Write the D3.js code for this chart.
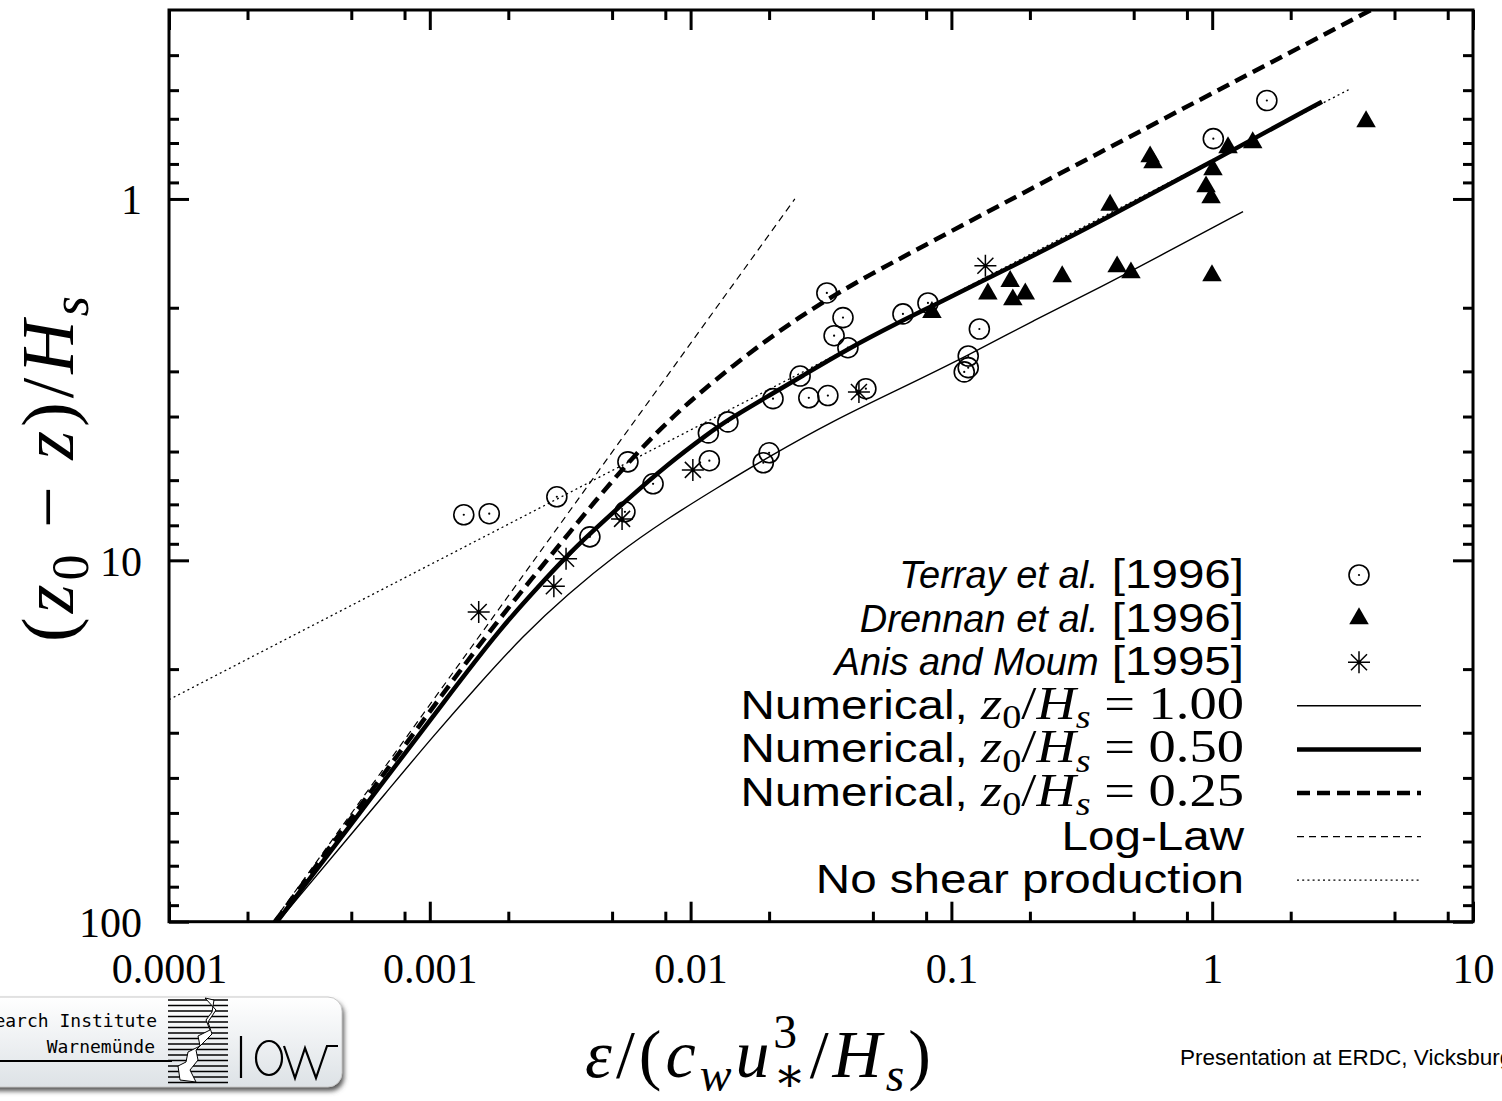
<!DOCTYPE html>
<html><head><meta charset="utf-8">
<script src="https://cdn.jsdelivr.net/npm/d3@7"></script>
<style>body{margin:0;background:#fff;} svg{display:block;}</style>
</head><body>
<svg id="c" width="1502" height="1101" xmlns="http://www.w3.org/2000/svg"></svg>
<script>
// ---------- axis ticks ----------
const xMajorTicks = [1e-4, 1e-3, 1e-2, 1e-1, 1, 10];
const xTickLabels = ["0.0001", "0.001", "0.01", "0.1", "1", "10"];
const xMinorTicks = [2e-4,5e-4,8e-4,2e-3,5e-3,8e-3,2e-2,5e-2,8e-2,0.2,0.5,0.8,2,5,8];
const yMajorTicks = [1, 10, 100];
const yTickLabels = ["1", "10", "100"];
const yMinorTicks = [0.4,0.5,0.6,0.7,0.8,0.9,2,3,4,5,6,7,8,9,20,30,40,50,60,70,80,90];

// ---------- model curves ----------
const num100X = [2.618e-4, 7.69e-4, 1.002e-3, 1.558e-3, 2.278e-3, 3.358e-3, 5.22e-3, 8.12e-3, 0.01263, 0.01963, 0.03516, 0.0635, 0.1148, 0.2056, 0.3713, 0.733, 1.313];
const num100Y = [100, 39.5, 31.4, 21.83, 16.18, 12.46, 9.59, 7.68, 6.30, 5.20, 4.11, 3.35, 2.72, 2.173, 1.76, 1.356, 1.084];

const num050X = [2.595e-4, 4.943e-4, 1.195e-3, 1.858e-3, 2.646e-3, 3.328e-3, 4.11e-3, 5.70e-3, 8.12e-3, 0.01166, 0.01391, 0.0207, 0.02627, 0.04014, 0.0635, 0.085, 0.1322, 0.2326, 0.3713, 0.981, 2.636];
const num050Y = [100, 54.3, 23.42, 15.48, 11.69, 9.78, 8.445, 6.80, 5.44, 4.465, 4.083, 3.45, 3.115, 2.597, 2.187, 1.974, 1.684, 1.373, 1.156, 0.793, 0.538];

const num025X = [2.549e-4, 4.943e-4, 1.195e-3, 1.81e-3, 2.422e-3, 3.54e-3, 4.49e-3, 6.01e-3, 7.63e-3, 9.11e-3, 0.01086, 0.01454, 0.01963, 0.02627, 0.03516, 0.04873, 0.0712, 0.1536, 0.3713, 0.898, 1.935, 4.136];
const num025Y = [100, 52.3, 21.98, 14.80, 11.40, 8.155, 6.61, 5.185, 4.34, 3.85, 3.44, 2.893, 2.454, 2.12, 1.855, 1.62, 1.399, 1.040, 0.744, 0.531, 0.3973, 0.298];

const logLawX = [2.51e-4, 0.0251];
const logLawY = [100, 1];

const noShearX = [1e-4, 3.4];
const noShearY = [24.3, 0.495];

// ---------- observations ----------
const terrayX = [1.35e-3, 1.69e-3, 3.07e-3, 4.11e-3, 5.75e-3, 5.60e-3, 7.18e-3, 0.0117, 0.0118, 0.0139, 0.0190, 0.0200, 0.0207, 0.0263, 0.0284, 0.0336, 0.0333, 0.0384, 0.0355, 0.0401, 0.0470, 0.0652, 0.0813, 0.128, 0.116, 0.116, 0.112, 1.01, 1.62];
const terrayY = [7.48, 7.43, 6.67, 8.61, 5.34, 7.34, 6.14, 4.44, 5.30, 4.14, 5.37, 5.04, 3.57, 3.09, 3.55, 3.50, 1.82, 2.13, 2.39, 2.58, 3.35, 2.08, 1.94, 2.29, 2.72, 2.93, 3.01, 0.681, 0.534];

const drennanX = [0.0842, 0.138, 0.168, 0.172, 0.192, 0.266, 0.406, 0.432, 0.488, 0.578, 0.593, 0.947, 0.990, 1.007, 0.998, 1.15, 1.43, 3.89];
const drennanY = [2.06, 1.83, 1.69, 1.90, 1.83, 1.64, 1.04, 1.54, 1.60, 0.764, 0.793, 0.925, 0.992, 0.830, 1.63, 0.721, 0.698, 0.611];

const anisX = [1.54e-3, 2.99e-3, 3.33e-3, 5.46e-3, 0.0102, 0.0442, 0.135];
const anisY = [13.9, 11.8, 9.90, 7.68, 5.62, 3.42, 1.53];

// ---------- legend labels ----------
const legendRefs = [["Terray et al.", "\u00a0[1996]"], ["Drennan et al.", "\u00a0[1996]"], ["Anis and Moum", "\u00a0[1995]"]];
const legendZ0 = ["1.00", "0.50", "0.25"];
const legendOther = ["Log-Law", "No shear production"];

// =====================================================
const svg = d3.select("#c");
const L = 169, R = 1473, T = 10, B = 921.7;
const x = d3.scaleLog().domain([1e-4, 10]).range([L, R]);
const y = d3.scaleLog().domain([0.3, 100]).range([T, B]);

const SERIF = "'Liberation Serif','DejaVu Serif',serif";
const SANS = "'Liberation Sans',Arial,Helvetica,sans-serif";

const defs = svg.append("defs");
defs.append("clipPath").attr("id", "plotClip").append("rect")
  .attr("x", L).attr("y", T).attr("width", R - L).attr("height", B - T);
const grad = defs.append("linearGradient").attr("id", "logoGrad").attr("x1", 0).attr("y1", 0).attr("x2", 0).attr("y2", 1);
grad.append("stop").attr("offset", "0%").attr("stop-color", "#ffffff");
grad.append("stop").attr("offset", "100%").attr("stop-color", "#dde2e6");
const blur = defs.append("filter").attr("id", "shadow").attr("x", "-10%").attr("y", "-10%").attr("width", "130%").attr("height", "140%");
blur.append("feGaussianBlur").attr("stdDeviation", 2.5);

// ---------- axes (inward ticks on all four sides) ----------
function axis(gen, tr, vals, size, labels) {
  const g = svg.append("g").attr("transform", tr)
    .call(gen.tickValues(vals).tickSize(size).tickSizeOuter(0)
      .tickFormat(labels ? (d, i) => labels[i] : () => ""));
  g.select(".domain").remove();
  g.selectAll(".tick line").attr("stroke", "#000").attr("stroke-width", 3);
  g.attr("font-family", SERIF).attr("font-size", 42);
  g.selectAll(".tick text").attr("fill", "#000");
  return g;
}
const gxB = axis(d3.axisBottom(x), `translate(0,${B})`, xMajorTicks, -20, xTickLabels);
gxB.selectAll(".tick text").attr("y", 61).attr("dy", 0);
axis(d3.axisBottom(x), `translate(0,${B})`, xMinorTicks, -10);
axis(d3.axisTop(x), `translate(0,${T})`, xMajorTicks, -20);
axis(d3.axisTop(x), `translate(0,${T})`, xMinorTicks, -10);
const gyL = axis(d3.axisLeft(y), `translate(${L},0)`, yMajorTicks, -20, yTickLabels);
gyL.selectAll(".tick text").attr("x", -27).attr("dy", "0.35em");
axis(d3.axisLeft(y), `translate(${L},0)`, yMinorTicks, -10);
axis(d3.axisRight(y), `translate(${R},0)`, yMajorTicks, -20);
axis(d3.axisRight(y), `translate(${R},0)`, yMinorTicks, -10);

// ---------- curves ----------
const smooth = d3.line().x(d => x(d[0])).y(d => y(d[1])).curve(d3.curveBasis);
const straight = d3.line().x(d => x(d[0])).y(d => y(d[1]));
const curves = svg.append("g").attr("clip-path", "url(#plotClip)");
const curveDefs = [
  {X: noShearX, Y: noShearY, w: 1.3, dash: "2,3.2", gen: straight},
  {X: logLawX, Y: logLawY, w: 1.2, dash: "7,5", gen: straight},
  {X: num100X, Y: num100Y, w: 1.4, dash: null, gen: smooth},
  {X: num025X, Y: num025Y, w: 4.5, dash: "13,7", gen: smooth},
  {X: num050X, Y: num050Y, w: 4.5, dash: null, gen: smooth}
];
curveDefs.forEach(c => {
  curves.append("path").datum(d3.zip(c.X, c.Y)).attr("d", c.gen)
    .attr("fill", "none").attr("stroke", "#000").attr("stroke-width", c.w)
    .attr("stroke-dasharray", c.dash);
});

// ---------- markers ----------
const tri = d3.symbol(d3.symbolTriangle, 165)();
const star = "M-11,0H11M0,-11V11M-8,-8L8,8M-8,8L8,-8";
function drawCircle(g, cx, cy) {
  g.append("circle").attr("cx", cx).attr("cy", cy).attr("r", 10).attr("fill", "none").attr("stroke", "#000").attr("stroke-width", 1.6);
  g.append("circle").attr("cx", cx).attr("cy", cy).attr("r", 1.1).attr("fill", "#000");
}
const mk = svg.append("g");
d3.zip(terrayX, terrayY).forEach(d => drawCircle(mk, x(d[0]), y(d[1])));
mk.selectAll("path.tri").data(d3.zip(drennanX, drennanY)).join("path").attr("class", "tri")
  .attr("d", tri).attr("transform", d => `translate(${x(d[0])},${y(d[1])})`).attr("fill", "#000");
mk.selectAll("path.star").data(d3.zip(anisX, anisY)).join("path").attr("class", "star")
  .attr("d", star).attr("transform", d => `translate(${x(d[0])},${y(d[1])})`)
  .attr("fill", "none").attr("stroke", "#000").attr("stroke-width", 1.5);

// ---------- rich text helper ----------
function rich(g, parts, fsSans, fsSerif) {
  const t = g.append("text");
  let shift = 0;
  parts.forEach(p => {
    const [txt, st, dx] = p;
    const isSans = st.startsWith("sans");
    const base = isSans ? fsSans : fsSerif;
    const ts = t.append("tspan").text(txt);
    let f = base, target = 0;
    const style = (st === "sansit" || st === "it" || st === "subit") ? "italic" : "normal";
    if (st === "sub" || st === "subit") { f = base * 0.7; target = base * 0.2; }
    if (st === "sup") { f = base * 0.7; target = -base * 0.42; }
    if (st === "substack") { f = base * 0.7; target = base * 0.2; }
    ts.attr("font-family", isSans ? SANS : SERIF).attr("font-style", style).attr("font-size", f);
    if (target !== shift) { ts.attr("dy", target - shift); shift = target; }
    if (dx) ts.attr("dx", dx);
  });
  return t;
}

// ---------- legend ----------
const rowY0 = 575, rowStep = 43.6, textRight = 1244, symX = 1359, lnX0 = 1297, lnX1 = 1421, sx = 1.16;
const leg = svg.append("g");
function legendRow(i, italic, parts) {
  const base = rowY0 + i * rowStep + 13;
  const g = leg.append("g").attr("transform", `translate(${textRight},${base}) scale(${sx},1)`);
  const t = rich(g, parts, 41, 47).attr("text-anchor", "end");
  if (italic) {
    const w = t.node().getComputedTextLength() * sx;
    leg.append("text").attr("x", textRight - w).attr("y", base).attr("text-anchor", "end")
      .attr("font-family", SANS).attr("font-style", "italic").attr("font-size", 38).text(italic);
  }
}
legendRefs.forEach((r, i) => legendRow(i, r[0], [[r[1], "sans"]]));
legendZ0.forEach((v, k) => legendRow(3 + k, null, [["Numerical, ", "sans"], ["z", "it"], ["0", "sub"], ["/", "rm"], ["H", "it"], ["s", "subit"], [" = " + v, "rm"]]));
legendOther.forEach((v, k) => legendRow(6 + k, null, [[v, "sans"]]));

drawCircle(leg, symX, rowY0);
leg.append("path").attr("d", tri).attr("transform", `translate(${symX},${rowY0 + rowStep})`).attr("fill", "#000");
leg.append("path").attr("d", star).attr("transform", `translate(${symX},${rowY0 + 2 * rowStep})`).attr("fill", "none").attr("stroke", "#000").attr("stroke-width", 1.5);
[[1.4, null], [4.5, null], [4.5, "13,7"], [1.2, "7,5"], [1.3, "2,3.2"]].forEach((s, k) => {
  const yy = rowY0 + (3 + k) * rowStep;
  leg.append("line").attr("x1", lnX0).attr("x2", lnX1).attr("y1", yy).attr("y2", yy)
    .attr("stroke", "#000").attr("stroke-width", s[0]).attr("stroke-dasharray", s[1]);
});

// ---------- axis titles ----------
const yl = svg.append("g").attr("transform", "translate(73,467) rotate(-90)");
rich(yl, [["(", "rm"], ["z", "it"], ["0", "sub"], [" − ", "rm"], ["z", "it"], [")/", "rm"], ["H", "it"], ["s", "subit"]], 74, 74)
  .attr("text-anchor", "middle").attr("letter-spacing", 4);

const xl = svg.append("g").attr("transform", "translate(760,1077)");
rich(xl, [["ε", "it"], ["/(", "rm"], ["c", "it"], ["w", "subit"], ["u", "it"], ["3", "sup"], ["∗", "substack", -27.8], ["/", "rm"], ["H", "it"], ["s", "subit"], [")", "rm"]], 68, 68)
  .attr("text-anchor", "middle").attr("letter-spacing", 4);

// ---------- logo ----------
const logo = svg.append("g");
logo.append("rect").attr("x", -20).attr("y", 1001).attr("width", 364).attr("height", 90).attr("rx", 14)
  .attr("fill", "#555").attr("filter", "url(#shadow)");
logo.append("rect").attr("x", -20).attr("y", 997).attr("width", 362).attr("height", 90).attr("rx", 14)
  .attr("fill", "url(#logoGrad)").attr("stroke", "#c8c8c8");
logo.append("text").attr("x", 157).attr("y", 1027).attr("text-anchor", "end")
  .attr("font-family", "'DejaVu Sans Mono',monospace").attr("font-size", 18).text("Research Institute");
logo.append("text").attr("x", 155).attr("y", 1053).attr("text-anchor", "end")
  .attr("font-family", "'DejaVu Sans Mono',monospace").attr("font-size", 18).text("Warnemünde");
logo.append("line").attr("x1", 0).attr("x2", 172).attr("y1", 1061).attr("y2", 1061).attr("stroke", "#000").attr("stroke-width", 2);
d3.range(1000, 1085, 5.5).forEach(yy => {
  logo.append("line").attr("x1", 168).attr("x2", 228).attr("y1", yy).attr("y2", yy).attr("stroke", "#000").attr("stroke-width", 1.6);
});
logo.append("path").attr("d", "M205,998 L214,1000 L212,1012 L206,1020 L210,1030 L198,1036 L200,1046 L188,1052 L186,1062 L178,1066 L180,1080 L196,1082 L190,1070 L198,1060 L196,1050 L204,1042 L212,1034 L208,1022 L216,1010 Z")
  .attr("fill", "#fff").attr("stroke", "#000").attr("stroke-width", 1);
logo.append("path").attr("d", "M241,1036 V1078 M256,1058 a13,17 0 1,0 26,0 a13,17 0 1,0 -26,0 M284,1046 L295,1078 L305,1048 L316,1078 L327,1046 L338,1046")
  .attr("fill", "none").attr("stroke", "#000").attr("stroke-width", 2.2);

// ---------- footer ----------
svg.append("text").attr("x", 1180).attr("y", 1065).attr("font-family", SANS).attr("font-size", 22.5)
  .text("Presentation at ERDC, Vicksburg");

// ---------- frame ----------
svg.append("rect").attr("x", L).attr("y", T).attr("width", R - L).attr("height", B - T)
  .attr("fill", "none").attr("stroke", "#000").attr("stroke-width", 3);
</script>
</body></html>
